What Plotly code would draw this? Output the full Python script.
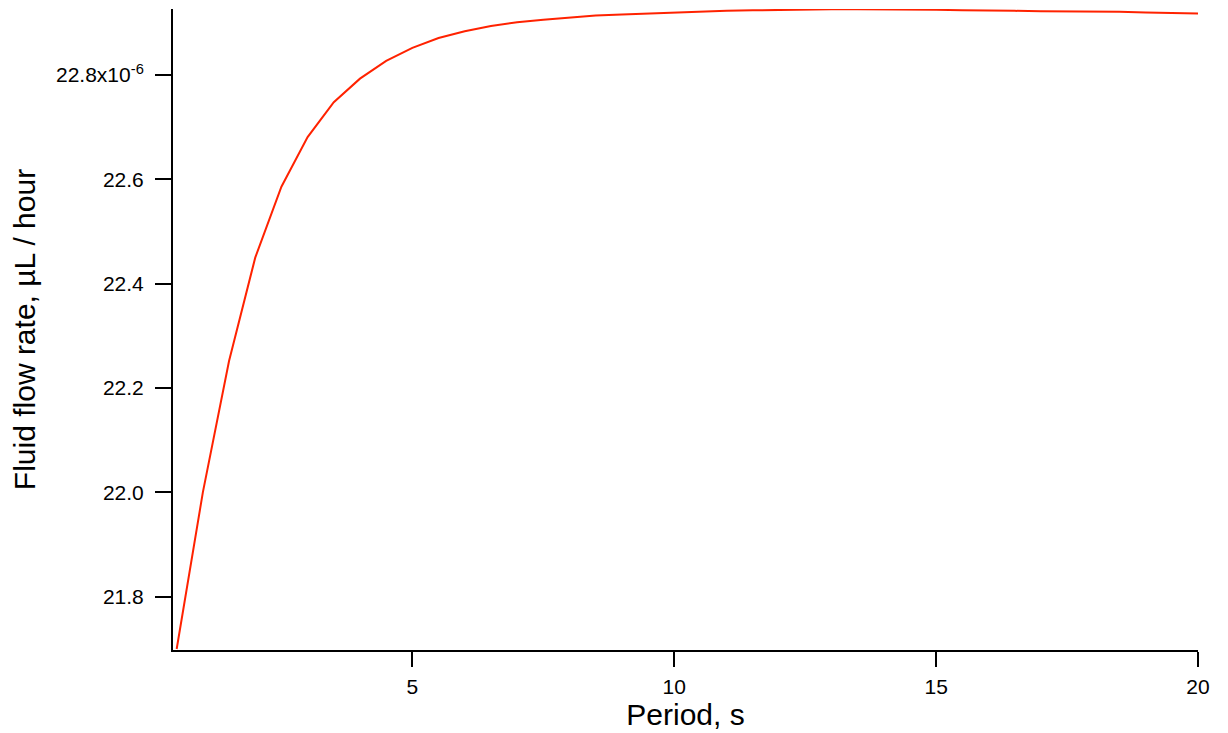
import plotly.graph_objects as go

# Period, s
period_s = [0.5, 1.0, 1.5, 2.0, 2.5, 3.0, 3.5, 4.0, 4.5, 5.0,
            5.5, 6.0, 6.5, 7.0, 7.5, 8.0, 8.5, 9.0, 9.5, 10.0,
            10.5, 11.0, 11.5, 12.0, 12.5, 13.0, 13.5, 14.0, 14.5, 15.0,
            15.5, 16.0, 16.5, 17.0, 17.5, 18.0, 18.5, 19.0, 19.5, 20.0]
# Fluid flow rate in units of 1e-6 µL / hour
flow_rate_e6 = [21.700, 22.000, 22.252, 22.450, 22.586, 22.681, 22.748, 22.793, 22.827, 22.852,
                22.871, 22.884, 22.894, 22.901, 22.906, 22.910, 22.914, 22.916, 22.918, 22.920,
                22.922, 22.923, 22.924, 22.925, 22.925, 22.926, 22.926, 22.926, 22.925, 22.925,
                22.924, 22.924, 22.923, 22.922, 22.922, 22.921, 22.921, 22.920, 22.919, 22.918]
scale = 1e-6
y_tick_vals_e6 = [21.8, 22.0, 22.2, 22.4, 22.6, 22.8]
y_tick_text = ["21.8", "22.0", "22.2", "22.4", "22.6", "22.8x10<sup>-6</sup>"]
x_tick_vals = [5, 10, 15, 20]

flow_rate = [v * scale for v in flow_rate_e6]

fig = go.Figure()
fig.add_trace(go.Scatter(x=period_s, y=flow_rate, mode="lines",
                         line=dict(color="#FF2200", width=2), showlegend=False,
                         cliponaxis=False))

font_family = "Liberation Sans, Arial, sans-serif"
fig.update_layout(
    width=1228, height=733,
    paper_bgcolor="white", plot_bgcolor="white",
    margin=dict(l=173, r=30, t=9, b=83),
    font=dict(family=font_family, color="black"),
)
fig.update_xaxes(
    range=[0.43, 20], showgrid=False, zeroline=False,
    showline=True, linecolor="black", linewidth=2,
    ticks="outside", ticklen=15, tickwidth=2, tickcolor="black",
    tickvals=x_tick_vals, ticktext=[str(v) for v in x_tick_vals],
    tickfont=dict(size=21), ticklabelstandoff=2,
    title=dict(text="Period, s", font=dict(size=30), standoff=2),
)
fig.update_yaxes(
    range=[21.698 * scale, 22.9265 * scale], showgrid=False, zeroline=False,
    showline=True, linecolor="black", linewidth=2,
    ticks="outside", ticklen=16, tickwidth=2, tickcolor="black",
    tickvals=[v * scale for v in y_tick_vals_e6], ticktext=y_tick_text,
    tickfont=dict(size=21), ticklabelstandoff=7,
    title=dict(text="Fluid flow rate, µL / hour", font=dict(size=30), standoff=12),
)

fig.write_html("out.html", config={"displayModeBar": False},
               post_script="document.body.style.margin='0px';document.body.style.overflow='hidden';")
